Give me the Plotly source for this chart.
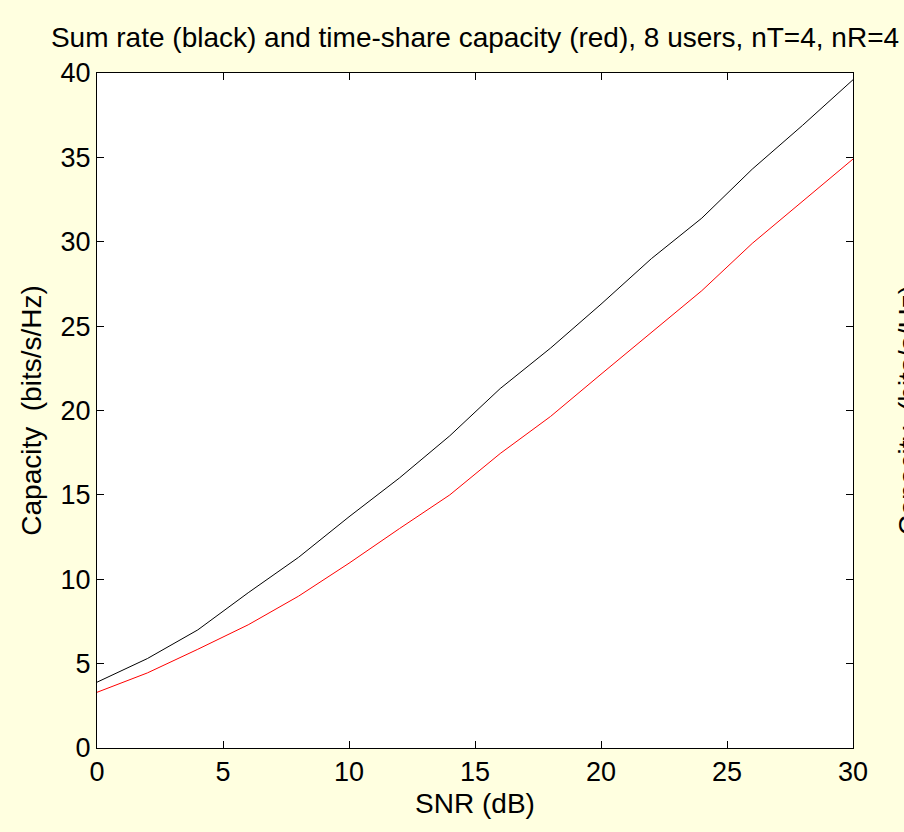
import plotly.graph_objects as go

snr_db = [0, 2, 4, 6, 8, 10, 12, 14, 16, 18, 20, 22, 24, 26, 28, 30]
sum_rate = [3.9, 5.3, 7.0, 9.2, 11.3, 13.7, 16.0, 18.5, 21.3, 23.7, 26.3, 29.0, 31.4, 34.3, 36.9, 39.6]
time_share = [3.3, 4.45, 5.85, 7.3, 9.0, 10.95, 13.0, 15.0, 17.45, 19.65, 22.15, 24.6, 27.1, 29.9, 32.4, 34.9]

x_ticks = [0, 5, 10, 15, 20, 25, 30]
y_ticks = [0, 5, 10, 15, 20, 25, 30, 35, 40]

FONT = "Liberation Sans, Arial, sans-serif"
BG = "#FFFFE0"

fig = go.Figure()
fig.add_trace(go.Scatter(x=snr_db, y=sum_rate, mode="lines",
                         line=dict(color="black", width=1), showlegend=False))
fig.add_trace(go.Scatter(x=snr_db, y=time_share, mode="lines",
                         line=dict(color="#FF0000", width=1), showlegend=False))

axis_common = dict(showline=True, linecolor="black", linewidth=1, mirror="ticks",
                   ticks="inside", ticklen=7, tickcolor="black", tickwidth=1,
                   showgrid=False, zeroline=False,
                   tickfont=dict(family=FONT, size=27, color="black"))

fig.update_layout(
    width=904, height=832,
    paper_bgcolor=BG, plot_bgcolor="white",
    margin=dict(l=97, r=51, t=73, b=84),
    title=dict(text="Sum rate (black) and time-share capacity (red), 8 users, nT=4, nR=4",
               x=(97 + 853) / 2 / 904, xanchor="center", y=1 - 37 / 832, yanchor="middle",
               font=dict(family=FONT, size=28, color="black")),
    xaxis=dict(range=[0, 30], tickvals=x_ticks, **axis_common,
               title=dict(text="SNR (dB)", font=dict(family=FONT, size=28, color="black"), standoff=6)),
    yaxis=dict(range=[0, 40], tickvals=y_ticks, **axis_common,
               title=dict(text="Capacity  (bits/s/Hz)", font=dict(family=FONT, size=28, color="black"), standoff=10)),
)

fig.add_annotation(text="Capacity  (bits/s/Hz)", textangle=-90, xref="paper", yref="paper",
                   x=(908 - 97) / 756, y=0.5, xanchor="center", yanchor="middle",
                   showarrow=False, font=dict(family=FONT, size=28, color="black"))

fig.write_html("out.html", config={"displayModeBar": False},
               post_script="document.body.style.margin='0';document.body.style.overflow='hidden';")
